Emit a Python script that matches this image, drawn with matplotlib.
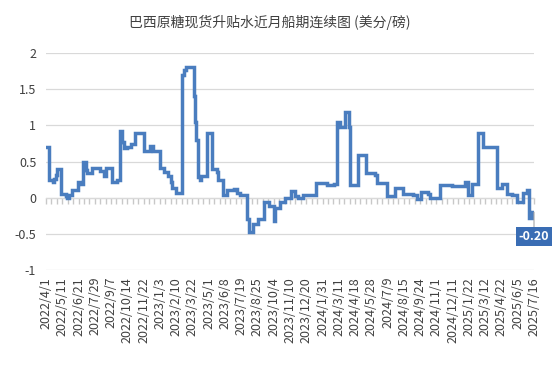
import matplotlib
matplotlib.use("Agg")
import matplotlib.pyplot as plt
import numpy as np

plt.rcParams['font.family'] = ['Noto Sans CJK SC', 'DejaVu Sans']

title = "巴西原糖现货升贴水近月船期连续图 (美分/磅)"

tick_labels = ["2022/4/1", "2022/5/11", "2022/6/21", "2022/7/29", "2022/9/7",
               "2022/10/14", "2022/11/22", "2023/1/3", "2023/2/10", "2023/3/22",
               "2023/5/1", "2023/6/8", "2023/7/19", "2023/8/25", "2023/10/4",
               "2023/11/10", "2023/12/20", "2024/1/31", "2024/3/11", "2024/4/18",
               "2024/5/28", "2024/7/9", "2024/8/15", "2024/9/24", "2024/11/1",
               "2024/12/11", "2025/1/22", "2025/3/12", "2025/4/22", "2025/6/5",
               "2025/7/16"]

# step change points, in category-axis units (label index), and premium values
step_pos = [0.00, 0.18, 0.45, 0.51, 0.59, 0.70, 0.92, 1.21, 1.27, 1.39,
            1.60, 1.95, 2.09, 2.29, 2.44, 2.54, 2.85, 3.30, 3.54, 3.67,
            4.06, 4.38, 4.57, 4.69, 4.79, 4.98, 5.20, 5.45, 6.00, 6.41,
            6.58, 7.01, 7.25, 7.52, 7.66, 7.76, 7.97, 8.34, 8.46, 8.58,
            9.12, 9.18, 9.24, 9.34, 9.47, 9.53, 9.90, 10.22, 10.49, 10.59,
            10.86, 11.10, 11.56, 11.74, 11.92, 12.33, 12.48, 12.70, 13.05, 13.42,
            13.71, 13.99, 14.07, 14.38, 14.69, 15.04, 15.30, 15.51, 15.82, 16.57,
            17.29, 17.70, 17.87, 18.07, 18.36, 18.60, 18.66, 19.20, 19.65, 20.22,
            20.32, 20.98, 21.45, 21.96, 22.58, 22.78, 23.03, 23.50, 23.60, 24.22,
            24.93, 25.75, 25.96, 26.16, 26.57, 26.88, 27.70, 28.01, 28.35, 28.62,
            28.93, 29.30, 29.54, 29.71, 29.85, 30.00]
step_val = [0.70, 0.24, 0.22, 0.26, 0.32, 0.39, 0.05, 0.02, -0.01, 0.04,
            0.10, 0.22, 0.19, 0.49, 0.38, 0.34, 0.41, 0.37, 0.30, 0.41,
            0.22, 0.25, 0.92, 0.77, 0.68, 0.70, 0.74, 0.90, 0.64, 0.71,
            0.65, 0.41, 0.35, 0.30, 0.22, 0.14, 0.06, 1.70, 1.76, 1.81,
            1.40, 1.05, 0.80, 0.28, 0.25, 0.30, 0.90, 0.40, 0.35, 0.24,
            0.04, 0.10, 0.12, 0.07, 0.03, -0.30, -0.47, -0.36, -0.30, -0.06,
            -0.12, -0.32, -0.14, -0.065, 0.00, 0.09, 0.02, 0.00, 0.03, 0.20,
            0.17, 0.19, 1.05, 0.98, 1.19, 0.98, 0.18, 0.59, 0.34, 0.31,
            0.20, 0.02, 0.13, 0.05, 0.04, -0.02, 0.08, 0.05, 0.00, 0.18,
            0.16, 0.21, 0.03, 0.19, 0.90, 0.70, 0.14, 0.19, 0.05, 0.03,
            -0.06, 0.07, 0.10, -0.28, -0.20, -0.20]

line_color = "#4a7dbf"
grid_color = "#d9d9d9"
text_color = "#404040"

fig = plt.figure(figsize=(5.54, 3.68), dpi=100)
rect = [46/554, 1-270/368, (534-46)/554, (270-53)/368]

# underlay axes: the category axis crossing at zero, with small tick marks
axz = fig.add_axes(rect, label="zero-axis")
axz.set_xlim(0, 30)
axz.set_ylim(-1, 2)
axz.patch.set_visible(False)
for k in ('top', 'left', 'right'):
    axz.spines[k].set_visible(False)
axz.spines['bottom'].set_position(('data', 0))
axz.spines['bottom'].set_color(grid_color)
axz.spines['bottom'].set_linewidth(0.9)
axz.xaxis.set_major_locator(matplotlib.ticker.MultipleLocator(1/3))
axz.xaxis.set_major_formatter(matplotlib.ticker.NullFormatter())
axz.yaxis.set_major_locator(matplotlib.ticker.NullLocator())
axz.xaxis.set_tick_params(which='major', direction='out', length=4, width=1.0,
                          color='#c8c8c8', bottom=True, top=False)
axz.set_zorder(0)

ax = fig.add_axes(rect, label="main")
ax.set_zorder(1)
ax.patch.set_visible(False)
ax.step(step_pos, step_val, where='post', color=line_color, lw=2.5,
        solid_joinstyle='miter', zorder=3)

ax.set_xlim(0, 30)
ax.set_ylim(-1, 2)
yt = [-1, -0.5, 0, 0.5, 1, 1.5, 2]
ax.set_yticks(yt)
ax.set_yticklabels(["-1", "-0.5", "0", "0.5", "1", "1.5", "2"])
ax.set_xticks(range(len(tick_labels)))
ax.set_xticklabels(tick_labels, rotation=90, va='top', ha='center')
ax.tick_params(axis='both', length=0, labelsize=9, colors=text_color)
ax.tick_params(axis='x', pad=5)
ax.tick_params(axis='y', pad=7)

for s in ax.spines.values():
    s.set_visible(False)
ax.yaxis.grid(True, color=grid_color, lw=0.9)
ax.set_axisbelow(True)

last = step_val[-1]
ax.annotate(f"{last:.2f}", xy=(step_pos[-1], last), xytext=(step_pos[-1], last - 0.34),
            ha='center', va='center', color='white', fontsize=9, fontweight='bold',
            bbox=dict(boxstyle='square,pad=0.25', fc='#3a6db4', ec='none'),
            arrowprops=dict(arrowstyle='-', color='#a6a6a6', lw=0.8,
                            shrinkA=0, shrinkB=0),
            annotation_clip=False, zorder=5)

fig.text(270/554, 1-22/368, title, ha='center', va='center', fontsize=10,
         color=text_color)

fig.savefig("out.png", dpi=100)
